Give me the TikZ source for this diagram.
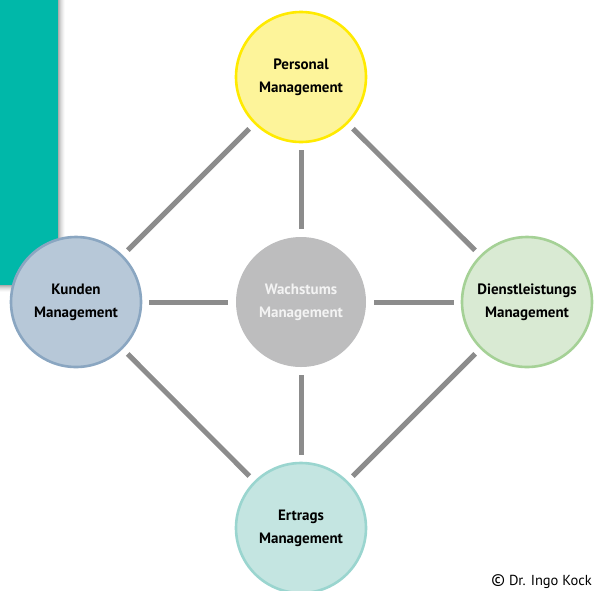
\documentclass[tikz,border=0pt]{standalone}
\usepackage{fontspec}
\setmainfont{PT Sans}
\begin{document}
\begin{tikzpicture}[x=1pt,y=-1pt,
  circ/.style={circle,minimum size=130pt,inner sep=0pt,line width=2.6pt,align=center,font=\bfseries\fontsize{15}{23}\selectfont},
  conn/.style={draw=black!45,line width=5pt,shorten <=7pt,shorten >=7pt}]
\useasboundingbox (0,0) rectangle (600,590);
% teal block with shadow
\foreach \i/\o in {1/0.10,2/0.08,3/0.06,4/0.05,5/0.04,6/0.03,7/0.02}{
  \fill[black,opacity=\o] (0,0) rectangle (58+\i,285+\i);
}
\fill[fill={rgb,255:red,0;green,184;blue,169}] (0,0) rectangle (58,285);
\node[circ,fill={rgb,255:red,253;green,244;blue,154},draw={rgb,255:red,255;green,234;blue,0}] (p) at (301,77) {Personal\\Management};
\node[circ,fill={rgb,255:red,183;green,200;blue,216},draw={rgb,255:red,138;green,166;blue,193}] (k) at (76,302) {Kunden\\Management};
\node[circ,fill={rgb,255:red,189;green,189;blue,190},text={rgb,255:red,243;green,243;blue,243}] (w) at (301,302) {Wachstums\\Management};
\node[circ,fill={rgb,255:red,217;green,234;blue,211},draw={rgb,255:red,165;green,209;blue,150}] (d) at (527,302) {Dienstleistungs\\Management};
\node[circ,fill={rgb,255:red,196;green,229;blue,225},draw={rgb,255:red,154;green,213;blue,207}] (e) at (301,528) {Ertrags\\Management};
\draw[conn] (k) -- (p);
\draw[conn] (p) -- (d);
\draw[conn] (k) -- (e);
\draw[conn] (e) -- (d);
\draw[conn] (p) -- (w);
\draw[conn] (w) -- (e);
\draw[conn] (k) -- (w);
\draw[conn] (w) -- (d);
\node[anchor=base east,font=\fontsize{14.5}{16}\selectfont,inner sep=0pt] (c) at (592,585) {{\fontsize{17}{17}\selectfont\textcopyright} Dr. Ingo Kock};
\end{tikzpicture}
\end{document}
